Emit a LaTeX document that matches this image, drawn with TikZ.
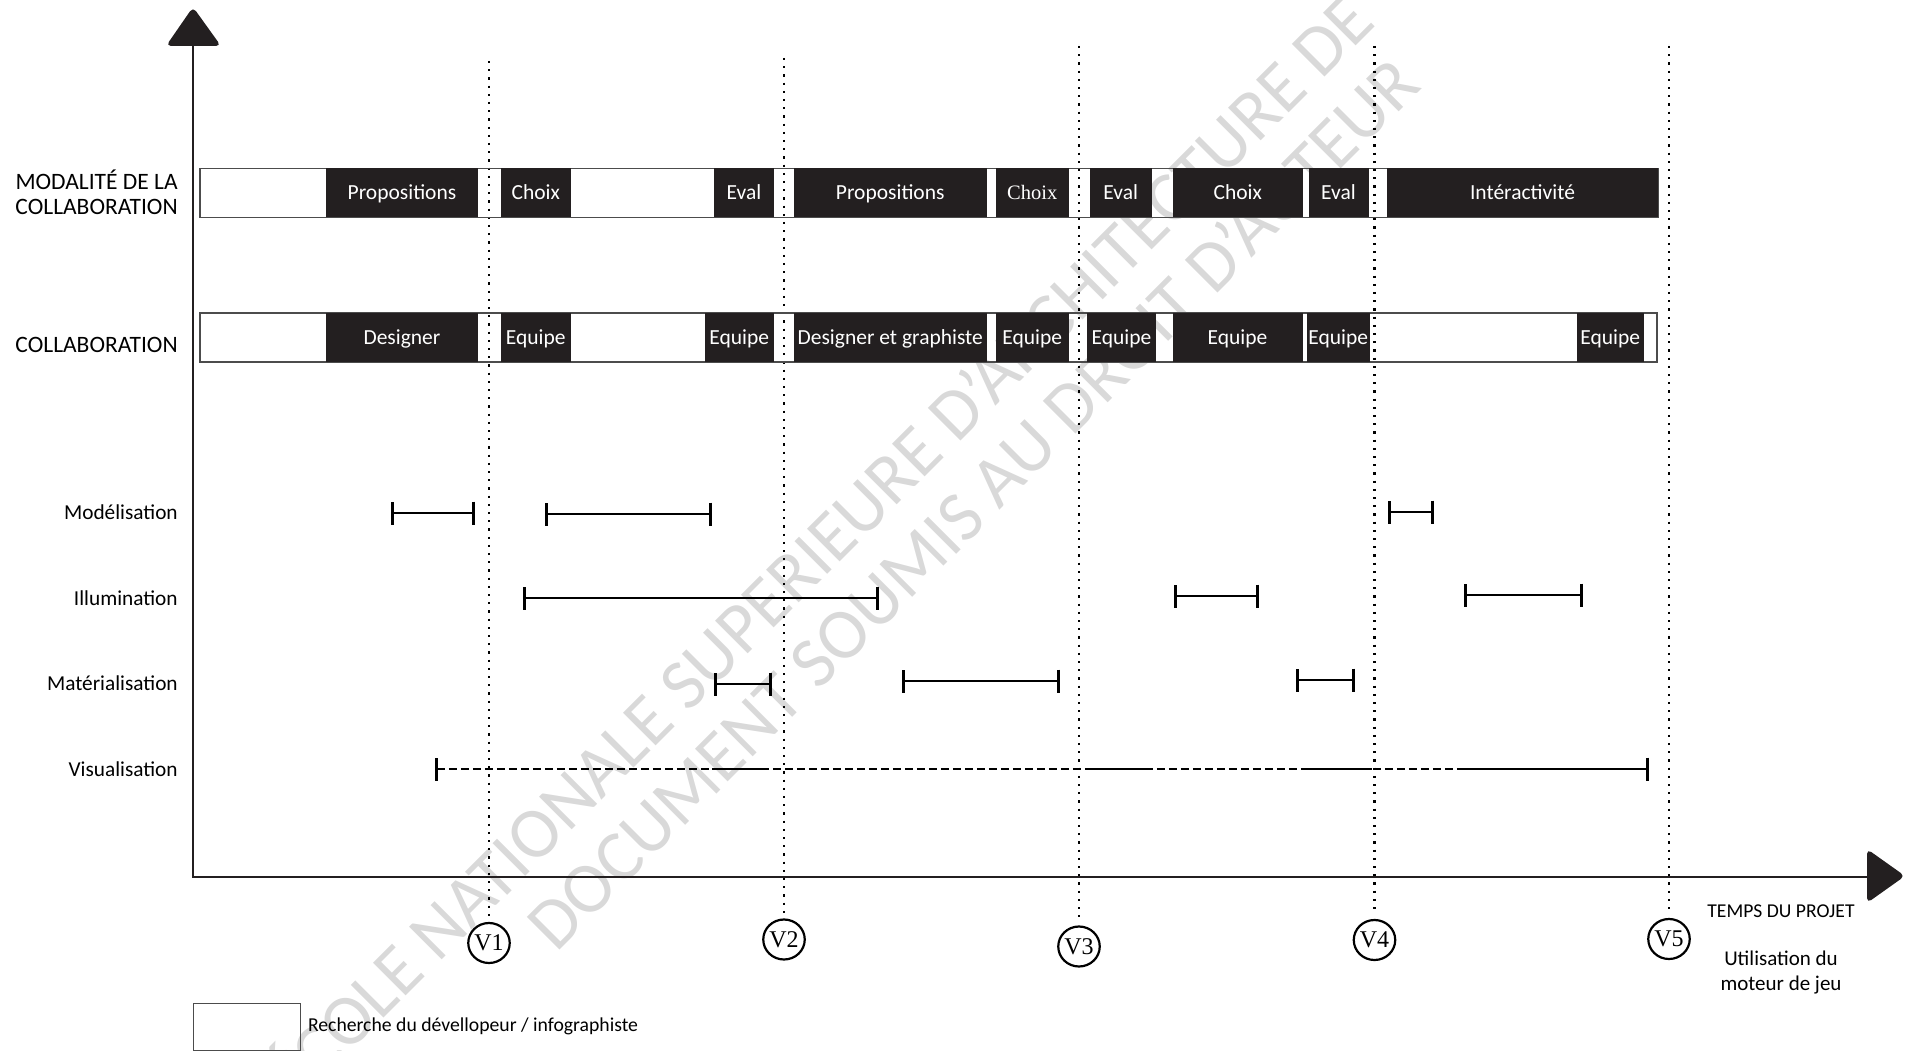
\documentclass[tikz,border=0pt]{standalone}
\usepackage{fontspec}
\setmainfont{Carlito}
\newfontfamily\romfont{Liberation Serif}
\usetikzlibrary{arrows.meta,shapes.geometric,positioning}
\definecolor{ink}{HTML}{231F20}
\definecolor{wmark}{gray}{0.85}

\begin{document}
\begin{tikzpicture}[x=1pt,y=-1pt,line width=2.6pt,
  blk/.style={fill=ink,text=white,inner sep=0pt,minimum height=49pt,text height=14pt,text depth=0pt,font=\fontsize{21.5}{24}\selectfont},
  rowline/.style={draw=black!70,line width=1.2pt},
  seg/.style={arrows={Bar[width=23pt]-Bar[width=23pt]}},
  vline/.style={line width=2.2pt,dash pattern=on 2.2pt off 6pt},
  vtag/.style={ellipse,draw,line width=2.2pt,minimum width=37pt,minimum height=40pt,inner sep=0pt,font=\romfont\fontsize{24}{24}\selectfont},
  lab/.style={anchor=east,inner sep=0pt,font=\fontsize{21.3}{24}\selectfont},
  headlab/.style={anchor=east,inner sep=0pt,align=right,font=\fontsize{23.5}{25}\selectfont},
  wm/.style={text=wmark,rotate=45,inner sep=0pt,font=\fontsize{72}{72}\selectfont}]
  \useasboundingbox (0,0) rectangle (1915,1051);
  \begin{scope}
    \clip (0,0) rectangle (1915,1051);
    \node[wm] (wm1) at (816,544) {ÉCOLE NATIONALE SUPERIEURE D'ARCHITECTURE DE};
    \node[wm] (wm2) at (972,503) {DOCUMENT SOUMIS AU DROIT D'AUTEUR};
  \end{scope}
  \foreach \x/\t/\c [count=\i] in {489/61/943,784/58/939.5,1079/46/946.5,1374.5/46/940,1669/46/939}{
    \node[vtag] (v\i) at (\x,\c) {V\i};
    \draw[vline,shorten >=4pt] (\x,\t) -- (v\i.north);
  }
  \draw[rowline] (200,168.5) rectangle (1658,217.5);
  \draw[rowline] (200,313) rectangle (1657,362);
  \foreach \a/\b/\t [count=\i] in {326/478/Propositions,500.5/571/Choix,714/774/Eval,793.5/987/Propositions,995.5/1069/{\romfont\fontsize{20.5}{22}\selectfont Choix},1090/1151.5/Eval,1172.5/1303/Choix,1308.5/1368.5/Eval,1387/1658/Intéractivité}
    \node[blk,minimum width={(\b-\a)*1pt}] (mod\i) at ({(\a+\b)/2},193) {\t};
  \foreach \a/\b/\t [count=\i] in {326/478/Designer,500.5/571/Equipe,704.5/774/Equipe,793.5/987/Designer et graphiste,995.5/1069/Equipe,1087/1156/Equipe,1172.5/1302.5/Equipe,1306.5/1370/Equipe,1576.5/1644/Equipe}
    \node[blk,minimum width={(\b-\a)*1pt}] (col\i) at ({(\a+\b)/2},337.5) {\t};
  \node[headlab] (modal) at (179,192.5) {MODALITÉ DE LA\\COLLABORATION};
  \node[headlab] (collab) at (179,345) {COLLABORATION};
  \node[lab] (mdl) at (179,512) {Modélisation};
  \node[lab] (ill) at (179,598) {Illumination};
  \node[lab] (mat) at (179,683) {Matérialisation};
  \node[lab] (vis) at (179,769) {Visualisation};
  \foreach \a/\b/\y in {391/475/513,545/712/514,1388/1434/512,523/879/598,1174/1259/596,1464/1583/595,714/772/684,902/1060/681,1296/1355/680}
    \draw[seg] (\a,\y) -- (\b,\y);
  \draw[seg,dash pattern=on 8pt off 4pt] (435,769) -- (1649,769);
  \foreach \a/\b in {712/769,1091/1149,1309/1372,1457/1648}
    \draw (\a,769) -- (\b,769);
  \draw[ink,line width=2.7pt] (193,42) -- (193,877) -- (1870,877);
  \fill[ink,rounded corners=5pt] (193,7) -- (221,46) -- (166,46) -- cycle;
  \fill[ink,rounded corners=5pt] (1905,876) -- (1867,903) -- (1867,849) -- cycle;
  \node[inner sep=0pt,font=\fontsize{19.6}{22}\selectfont] (temps) at (1781,911) {TEMPS DU PROJET};
  \node[inner sep=0pt,align=center,font=\fontsize{21}{25}\selectfont] (moteur) at (1781,973) {Utilisation du\\moteur de jeu};
  \node[draw=black!70,line width=1.2pt,minimum width=107pt,minimum height=47pt,inner sep=0pt,anchor=north west] (leg) at (193,1002.5) {};
  \node[right=5.5pt of leg,inner sep=0pt,font=\fontsize{19.7}{22}\selectfont] (legtxt) {Recherche du dévellopeur / infographiste};
\end{tikzpicture}
\end{document}
